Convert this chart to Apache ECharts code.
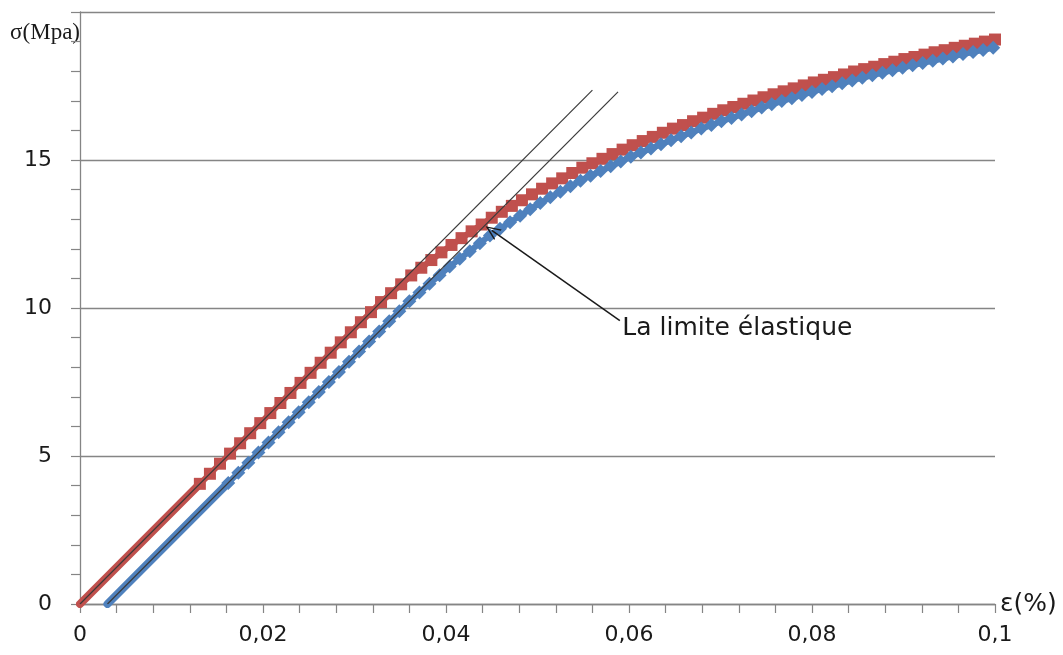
<!DOCTYPE html>
<html lang="fr">
<head>
<meta charset="UTF-8">
<title>Courbe contrainte - déformation</title>
<script src="https://cdn.jsdelivr.net/npm/echarts@6.0.0/dist/echarts.min.js"></script>
<style>
    html, body { margin: 0; padding: 0; background: #fff; }
    #chart { width: 1063px; height: 655px; }
</style>
</head>
<body>
<div id="chart"></div>
<script>
    // courbe rouge (marqueurs carrés)
    var redStrain = [0.0131, 0.0142, 0.0153, 0.0164, 0.0175, 0.0186, 0.0197, 0.0208, 0.0219, 0.0230,
        0.0241, 0.0252, 0.0263, 0.0274, 0.0285, 0.0296, 0.0307, 0.0318, 0.0329, 0.0340,
        0.0351, 0.0362, 0.0373, 0.0384, 0.0395, 0.0406, 0.0417, 0.0428, 0.0439, 0.0450,
        0.0461, 0.0472, 0.0483, 0.0494, 0.0505, 0.0516, 0.0527, 0.0538, 0.0549, 0.0560,
        0.0571, 0.0582, 0.0593, 0.0604, 0.0615, 0.0626, 0.0637, 0.0648, 0.0659, 0.0670,
        0.0681, 0.0692, 0.0703, 0.0714, 0.0725, 0.0736, 0.0747, 0.0758, 0.0769, 0.0780,
        0.0791, 0.0802, 0.0813, 0.0824, 0.0835, 0.0846, 0.0857, 0.0868, 0.0879, 0.0890,
        0.0901, 0.0912, 0.0923, 0.0934, 0.0945, 0.0956, 0.0967, 0.0978, 0.0989, 0.1000];
    var redStress = [4.06, 4.40, 4.74, 5.08, 5.43, 5.77, 6.11, 6.45, 6.79, 7.13,
        7.47, 7.81, 8.15, 8.49, 8.84, 9.18, 9.52, 9.86, 10.20, 10.50,
        10.80, 11.10, 11.36, 11.62, 11.88, 12.13, 12.36, 12.59, 12.82, 13.05,
        13.25, 13.45, 13.64, 13.84, 14.03, 14.21, 14.38, 14.56, 14.74, 14.89,
        15.04, 15.20, 15.35, 15.50, 15.64, 15.78, 15.92, 16.06, 16.18, 16.31,
        16.43, 16.56, 16.68, 16.79, 16.90, 17.01, 17.12, 17.22, 17.32, 17.42,
        17.52, 17.62, 17.71, 17.80, 17.89, 17.99, 18.07, 18.15, 18.24, 18.32,
        18.41, 18.48, 18.56, 18.64, 18.71, 18.79, 18.86, 18.93, 19.00, 19.07];

    // courbe bleue (marqueurs losanges)
    var blueStrain = [0.0162, 0.0173, 0.0184, 0.0195, 0.0206, 0.0217, 0.0228, 0.0239, 0.0250, 0.0261,
        0.0272, 0.0283, 0.0294, 0.0305, 0.0316, 0.0327, 0.0338, 0.0349, 0.0360, 0.0371,
        0.0382, 0.0393, 0.0404, 0.0415, 0.0426, 0.0437, 0.0448, 0.0459, 0.0470, 0.0481,
        0.0492, 0.0503, 0.0514, 0.0525, 0.0536, 0.0547, 0.0558, 0.0569, 0.0580, 0.0591,
        0.0602, 0.0613, 0.0624, 0.0635, 0.0646, 0.0657, 0.0668, 0.0679, 0.0690, 0.0701,
        0.0712, 0.0723, 0.0734, 0.0745, 0.0756, 0.0767, 0.0778, 0.0789, 0.0800, 0.0811,
        0.0822, 0.0833, 0.0844, 0.0855, 0.0866, 0.0877, 0.0888, 0.0899, 0.0910, 0.0921,
        0.0932, 0.0943, 0.0954, 0.0965, 0.0976, 0.0987, 0.0998];
    var blueStress = [4.09, 4.43, 4.77, 5.12, 5.46, 5.80, 6.14, 6.48, 6.82, 7.16,
        7.50, 7.84, 8.18, 8.53, 8.87, 9.21, 9.55, 9.89, 10.23, 10.52,
        10.82, 11.11, 11.40, 11.66, 11.92, 12.19, 12.45, 12.68, 12.90, 13.12,
        13.34, 13.55, 13.74, 13.93, 14.11, 14.30, 14.47, 14.63, 14.79, 14.95,
        15.11, 15.25, 15.39, 15.53, 15.67, 15.80, 15.93, 16.06, 16.18, 16.31,
        16.42, 16.54, 16.65, 16.77, 16.88, 16.99, 17.09, 17.20, 17.30, 17.40,
        17.49, 17.59, 17.69, 17.78, 17.86, 17.95, 18.03, 18.12, 18.20, 18.28,
        18.35, 18.43, 18.50, 18.58, 18.65, 18.72, 18.79];

    // partie élastique (points très serrés -> trait épais)
    var redElasticStrain = [0, 0.0131];
    var redElasticStress = [0, 4.06];
    var blueElasticStrain = [0.003, 0.0162];
    var blueElasticStress = [0, 4.09];

    // tangentes
    var tangentRedStrain = [0, 0.056];
    var tangentRedStress = [0, 17.36];
    var tangentBlueStrain = [0.003, 0.0588];
    var tangentBlueStress = [0, 17.3];

    // flèche + texte
    var arrowStrain = [0.0590, 0.0450];
    var arrowStress = [9.57, 12.62];
    var noteText = 'La limite élastique';

    var xTickLabels = ['0', '0,02', '0,04', '0,06', '0,08', '0,1'];
    var yTickLabels = ['0', '5', '10', '15', ''];

    var RED = '#C0504D';
    var BLUE = '#4F81BD';
    var AXIS = '#858585';
    var TEXT = '#1a1a1a';

    function pairs(xs, ys) {
        return xs.map(function (x, i) { return [x, ys[i]]; });
    }

    var myChart = echarts.init(document.getElementById('chart'));
    var option = {
        animation: false,
        backgroundColor: '#fff',
        grid: { left: 80, right: 68, top: 12, bottom: 51 },
        xAxis: {
            type: 'value',
            min: 0, max: 0.1, interval: 0.02,
            name: 'ε(%)',
            nameLocation: 'end',
            nameGap: 5,
            nameTextStyle: { fontFamily: 'DejaVu Sans', fontSize: 25, color: TEXT, align: 'left', verticalAlign: 'middle' },
            axisLine: { show: true, lineStyle: { color: AXIS, width: 1.3 } },
            axisTick: { show: true, length: 9, lineStyle: { color: AXIS, width: 1.2 } },
            minorTick: { show: true, splitNumber: 5, length: 9, lineStyle: { color: AXIS, width: 1.2 } },
            splitLine: { show: false },
            axisLabel: {
                margin: 20,
                fontFamily: 'DejaVu Sans', fontSize: 22, color: TEXT,
                formatter: function (v) { return xTickLabels[Math.round(v / 0.02)]; }
            }
        },
        yAxis: {
            type: 'value',
            min: 0, max: 20, interval: 5,
            name: 'σ(Mpa)',
            nameLocation: 'end',
            nameGap: -21,
            nameTextStyle: { fontFamily: 'Liberation Serif', fontSize: 23, color: TEXT, align: 'right', verticalAlign: 'middle' },
            axisLine: { show: true, lineStyle: { color: AXIS, width: 1.3 } },
            axisTick: { show: true, length: 9, lineStyle: { color: AXIS, width: 1.2 } },
            minorTick: { show: true, splitNumber: 5, length: 9, lineStyle: { color: AXIS, width: 1.2 } },
            splitLine: { show: true, lineStyle: { color: AXIS, width: 1.3 } },
            axisLabel: {
                margin: 28,
                fontFamily: 'DejaVu Sans', fontSize: 22, color: TEXT,
                formatter: function (v) { return yTickLabels[Math.round(v / 5)]; }
            }
        },
        series: [
            {
                type: 'line', data: pairs(redElasticStrain, redElasticStress), symbol: 'none',
                lineStyle: { color: RED, width: 8, cap: 'round' }, z: 2
            },
            {
                type: 'line', data: pairs(redStrain, redStress), symbol: 'rect', symbolSize: 12,
                itemStyle: { color: RED }, lineStyle: { color: RED, width: 6 }, z: 3
            },
            {
                type: 'line', data: pairs(blueElasticStrain, blueElasticStress), symbol: 'none',
                lineStyle: { color: BLUE, width: 8, cap: 'round' }, z: 2
            },
            {
                type: 'line', data: pairs(blueStrain, blueStress), symbol: 'diamond', symbolSize: 14,
                itemStyle: { color: BLUE }, lineStyle: { color: BLUE, width: 6 }, z: 3
            },
            {
                type: 'line', data: pairs(tangentRedStrain, tangentRedStress), symbol: 'none',
                lineStyle: { color: '#3a3a3a', width: 1.2 }, z: 5
            },
            {
                type: 'line', data: pairs(tangentBlueStrain, tangentBlueStress), symbol: 'none',
                lineStyle: { color: '#3a3a3a', width: 1.2 }, z: 5,
                markLine: {
                    silent: true,
                    symbol: ['none', 'path://M10,0 L20,20 L17.6,20 L10,4.6 L2.4,20 L0,20 Z'],
                    symbolSize: [13, 15],
                    label: { show: false },
                    lineStyle: { color: '#1a1a1a', width: 1.5, type: 'solid' },
                    data: [[
                        { coord: [arrowStrain[0], arrowStress[0]] },
                        { coord: [arrowStrain[1], arrowStress[1]] }
                    ]]
                },
                markPoint: {
                    silent: true,
                    symbol: 'circle', symbolSize: 1,
                    itemStyle: { color: 'rgba(0,0,0,0)' },
                    label: {
                        show: true, position: 'right', distance: 2,
                        formatter: noteText,
                        fontFamily: 'DejaVu Sans', fontSize: 25, color: TEXT
                    },
                    data: [{ coord: [arrowStrain[0], arrowStress[0] - 0.25] }]
                }
            }
        ]
    };
    myChart.setOption(option);
</script>
</body>
</html>
